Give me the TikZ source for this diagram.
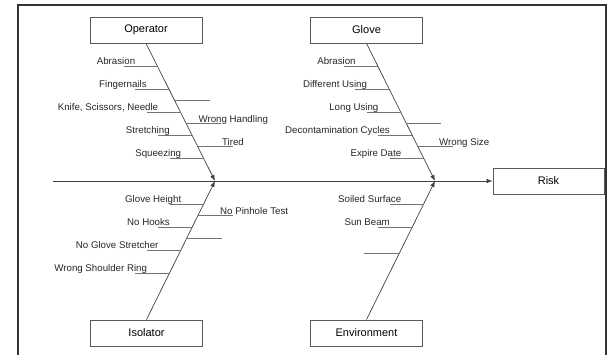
\documentclass[tikz,border=0pt]{standalone}
\usepackage{fontspec}
\setmainfont{Liberation Sans}
\usetikzlibrary{arrows.meta,calc}

\begin{document}
\begin{tikzpicture}[x=1pt, y=-1pt,
    cause/.style={draw=black!65, line width=0.8pt, minimum width=112pt, minimum height=26pt,
        inner sep=0pt, font=\fontsize{11}{13}\selectfont},
    bone/.style={draw=black!75, line width=0.7pt, -{Latex[length=6pt,width=4.5pt]}},
    rib/.style={draw=black!55, line width=0.7pt},
    lbl/.style={inner sep=0pt, text=black!85, font=\fontsize{9.7}{11}\selectfont},
    lblL/.style={lbl, anchor=base east, xshift=12pt, yshift=1.5pt},
    lblR/.style={lbl, anchor=base west, yshift=1.5pt}]
    \useasboundingbox (0,0) rectangle (612,355);

    % Frame
    \draw[black!80, line width=1.5pt] (18,355) -- (18,5) -- (606,5) -- (606,355);

    % Boxes
    \node[cause] (op) at (146,30) {Operator};
    \node[cause] (gl) at (366.5,30) {Glove};
    \node[cause] (iso) at (146.5,333) {Isolator};
    \node[cause] (env) at (366.5,333) {Environment};
    \node[cause, minimum width=111pt] (risk) at (548.5,181) {Risk};

    % Spine and bones
    \coordinate (tail) at (53,181);
    \coordinate (hA) at (215,181);
    \coordinate (hB) at (435,181);
    \draw[bone] (tail) -- (risk.west);
    \draw[bone] (op.south) -- (hA);
    \draw[bone] (gl.south) -- (hB);
    \draw[bone] (iso.north) -- (hA);
    \draw[bone] (env.north) -- (hB);

    % Operator
    \draw[rib] ($(op.south)!0.1667!(hA)$) -- ++(-34,0) node[lblL] {Abrasion};
    \draw[rib] ($(op.south)!0.3333!(hA)$) -- ++(-34,0) node[lblL] {Fingernails};
    \draw[rib] ($(op.south)!0.4167!(hA)$) -- ++(35,0);
    \draw[rib] ($(op.south)!0.5!(hA)$) -- ++(-34,0) node[lblL] {Knife, Scissors, Needle};
    \draw[rib] ($(op.south)!0.5833!(hA)$) -- ++(35,0) node[lblR, pos=0, xshift=12pt] {Wrong Handling};
    \draw[rib] ($(op.south)!0.6667!(hA)$) -- ++(-34,0) node[lblL] {Stretching};
    \draw[rib] ($(op.south)!0.75!(hA)$) -- ++(35,0) node[lblR, pos=0, xshift=24pt] {Tired};
    \draw[rib] ($(op.south)!0.8333!(hA)$) -- ++(-34,0) node[lblL] {Squeezing};

    % Glove
    \draw[rib] ($(gl.south)!0.1667!(hB)$) -- ++(-34,0) node[lblL] {Abrasion};
    \draw[rib] ($(gl.south)!0.3333!(hB)$) -- ++(-34,0) node[lblL] {Different Using};
    \draw[rib] ($(gl.south)!0.5!(hB)$) -- ++(-34,0) node[lblL] {Long Using};
    \draw[rib] ($(gl.south)!0.5833!(hB)$) -- ++(35,0);
    \draw[rib] ($(gl.south)!0.6667!(hB)$) -- ++(-34,0) node[lblL] {Decontamination Cycles};
    \draw[rib] ($(gl.south)!0.75!(hB)$) -- ++(35,0) node[lblR, pos=0, xshift=21pt] {Wrong Size};
    \draw[rib] ($(gl.south)!0.8333!(hB)$) -- ++(-34,0) node[lblL] {Expire Date};

    % Isolator
    \draw[rib] ($(hA)!0.1667!(iso.north)$) -- ++(-34,0) node[lblL] {Glove Height};
    \draw[rib] ($(hA)!0.25!(iso.north)$) -- ++(35,0) node[lblR, pos=0, xshift=22pt] {No Pinhole Test};
    \draw[rib] ($(hA)!0.3333!(iso.north)$) -- ++(-34,0) node[lblL] {No Hooks};
    \draw[rib] ($(hA)!0.4167!(iso.north)$) -- ++(36,0);
    \draw[rib] ($(hA)!0.5!(iso.north)$) -- ++(-34,0) node[lblL] {No Glove Stretcher};
    \draw[rib] ($(hA)!0.6667!(iso.north)$) -- ++(-34,0) node[lblL] {Wrong Shoulder Ring};

    % Environment
    \draw[rib] ($(hB)!0.1667!(env.north)$) -- ++(-34,0) node[lblL] {Soiled Surface};
    \draw[rib] ($(hB)!0.3333!(env.north)$) -- ++(-34,0) node[lblL] {Sun Beam};
    \draw[rib] ($(hB)!0.52!(env.north)$) -- ++(-35,0);
\end{tikzpicture}
\end{document}
